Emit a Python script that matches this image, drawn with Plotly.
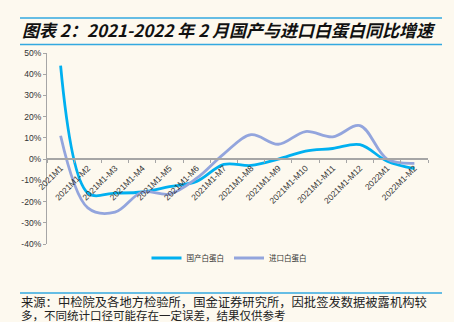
import plotly.graph_objects as go

categories = ["2021M1", "2021M1-M2", "2021M1-M3", "2021M1-M4", "2021M1-M5", "2021M1-M6",
              "2021M1-M7", "2021M1-M8", "2021M1-M9", "2021M1-M10", "2021M1-M11", "2021M1-M12",
              "2022M1", "2022M1-M2"]
domestic = [44, -16, -16, -15.5, -13, -10.5, -2.5, -3, 0, 3.8, 5, 6.8, -1, -4.5]
imported = [11, -23, -25, -15.5, -16.5, -9, 2.5, 11.5, 7, 13, 10.5, 15.8, 0, -2]
series_names = ["国产白蛋白", "进口白蛋白"]
y_ticks = [-40, -30, -20, -10, 0, 10, 20, 30, 40, 50]
y_tick_labels = ["-40%", "-30%", "-20%", "-10%", "0%", "10%", "20%", "30%", "40%", "50%"]

W, H = 454, 322
L, R, T, B = 47, 428, 53, 244
BG = "#fdf9ef"
LINEBLUE = "#33a9e0"
CJK = "Noto Sans CJK SC"


def px(x):
    return (x - L) / (R - L)


def py(y):
    return (B - y) / (B - T)


fig = go.Figure()
fig.add_trace(go.Scatter(x=categories, y=domestic, name=series_names[0], mode="lines",
                         line=dict(color="#00b0f0", width=2.8, shape="spline")))
fig.add_trace(go.Scatter(x=categories, y=imported, name=series_names[1], mode="lines",
                         line=dict(color="#93a5dd", width=2.8, shape="spline")))

ymin, ymax = -40, 50
zero_pos = (0 - ymin) / (ymax - ymin)

fig.update_layout(
    width=W, height=H,
    margin=dict(l=L, r=W - R, t=T, b=H - B),
    paper_bgcolor=BG, plot_bgcolor=BG,
    font=dict(family="Liberation Sans, Arial", size=8, color="#333333"),
    xaxis=dict(
        type="category", range=[-0.5, len(categories) - 0.5],
        anchor="free", position=zero_pos,
        showline=True, linecolor="#a6a6a6", linewidth=1.5,
        ticks="outside", tickson="boundaries", ticklen=3, tickcolor="#a6a6a6",
        tickangle=-45, showgrid=False, zeroline=False,
        tickfont=dict(size=8.5, color="#333333"),
    ),
    yaxis=dict(
        range=[ymin, ymax], tickmode="array", tickvals=y_ticks, ticktext=y_tick_labels,
        showline=True, linecolor="#a6a6a6", linewidth=1.2,
        ticks="outside", ticklen=3, tickcolor="#a6a6a6",
        showgrid=False, zeroline=False,
        tickfont=dict(size=8.5, color="#333333"),
    ),
    showlegend=True,
    legend=dict(orientation="h", x=px(229), xanchor="center", y=py(258), yanchor="middle",
                font=dict(family=CJK, size=7.5, color="#333333"), itemwidth=30,
                bgcolor="rgba(0,0,0,0)"),
)

shapes = []
for yy in (18, 44.5, 293):
    shapes.append(dict(type="line", xref="paper", yref="paper",
                       x0=px(20), x1=px(442), y0=py(yy), y1=py(yy),
                       line=dict(color=LINEBLUE, width=1.5)))
fig.update_layout(shapes=shapes)

fig.add_annotation(xref="paper", yref="paper", x=px(20), y=py(29), xanchor="left", yanchor="middle",
                   text="图表 2：2021-2022 年 2 月国产与进口白蛋白同比增速", showarrow=False,
                   font=dict(family=CJK, size=17, color="#111111", weight="bold", style="italic"))
fig.add_annotation(xref="paper", yref="paper", x=px(20), y=py(302), xanchor="left", yanchor="middle",
                   text="来源：中检院及各地方检验所，国金证券研究所，因批签发数据被露机构较", showarrow=False,
                   borderpad=0,
                   font=dict(family=CJK, size=12.3, color="#222222"))
fig.add_annotation(xref="paper", yref="paper", x=px(20), y=py(314.5), xanchor="left", yanchor="middle",
                   text="多，不同统计口径可能存在一定误差，结果仅供参考", showarrow=False,
                   borderpad=0,
                   font=dict(family=CJK, size=11.5, color="#222222"))

fig.write_html("out.html")
